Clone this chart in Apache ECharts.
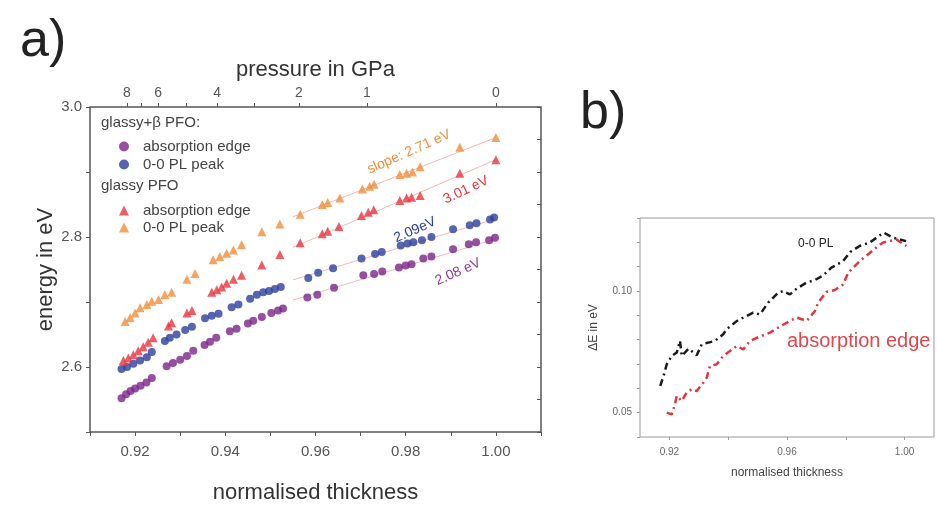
<!DOCTYPE html>
<html>
<head>
<meta charset="utf-8">
<script src="https://cdn.jsdelivr.net/npm/echarts@6/dist/echarts.min.js"></script>
<style>
html, body { margin: 0; padding: 0; background: #fff; }
#chart { width: 937px; height: 509px; }
</style>
</head>
<body>
<div id="chart"></div>
<script>
// panel a: energy (eV) against normalised thickness
var betaAbsorption = [[0.9170,2.552],[0.9180,2.558],[0.9190,2.563],[0.9200,2.567],[0.9212,2.571],[0.9225,2.576],[0.9237,2.583],[0.9270,2.601],[0.9284,2.606],[0.9300,2.611],[0.9315,2.617],[0.9329,2.625],[0.9354,2.634],[0.9366,2.639],[0.9380,2.645],[0.9410,2.655],[0.9425,2.659],[0.9450,2.667],[0.9462,2.671],[0.9481,2.677],[0.9502,2.683],[0.9517,2.687],[0.9528,2.690],[0.9582,2.707],[0.9604,2.711],[0.9641,2.722],[0.9706,2.741],[0.9730,2.743],[0.9748,2.747],[0.9785,2.753],[0.9800,2.756],[0.9813,2.758],[0.9839,2.767],[0.9857,2.770],[0.9905,2.781],[0.9940,2.789],[0.9956,2.792],[0.9985,2.795],[0.9998,2.799]];
var betaPL = [[0.9170,2.597],[0.9182,2.600],[0.9196,2.605],[0.9211,2.610],[0.9226,2.615],[0.9237,2.623],[0.9266,2.640],[0.9277,2.645],[0.9292,2.650],[0.9311,2.657],[0.9326,2.662],[0.9355,2.675],[0.9370,2.679],[0.9385,2.682],[0.9414,2.692],[0.9429,2.696],[0.9455,2.705],[0.9470,2.711],[0.9484,2.715],[0.9497,2.717],[0.9510,2.720],[0.9523,2.723],[0.9584,2.737],[0.9606,2.745],[0.9639,2.752],[0.9702,2.767],[0.9732,2.774],[0.9747,2.777],[0.9789,2.787],[0.9804,2.790],[0.9817,2.792],[0.9836,2.795],[0.9857,2.800],[0.9905,2.812],[0.9942,2.818],[0.9957,2.821],[0.9987,2.827],[0.9996,2.830]];
var glassyAbsorption = [[0.9174,2.610],[0.9185,2.614],[0.9196,2.619],[0.9207,2.625],[0.9218,2.631],[0.9229,2.638],[0.9240,2.645],[0.9274,2.663],[0.9281,2.668],[0.9315,2.683],[0.9326,2.687],[0.9370,2.715],[0.9381,2.719],[0.9392,2.723],[0.9403,2.729],[0.9418,2.735],[0.9436,2.741],[0.9481,2.757],[0.9521,2.773],[0.9566,2.791],[0.9615,2.805],[0.9627,2.809],[0.9652,2.816],[0.9702,2.833],[0.9717,2.838],[0.9729,2.842],[0.9787,2.856],[0.9802,2.860],[0.9813,2.861],[0.9832,2.864],[0.9920,2.898],[1.0000,2.919]];
var glassyPL = [[0.9178,2.670],[0.9189,2.676],[0.9200,2.683],[0.9211,2.691],[0.9226,2.696],[0.9237,2.701],[0.9252,2.704],[0.9266,2.711],[0.9281,2.715],[0.9315,2.735],[0.9333,2.744],[0.9373,2.765],[0.9388,2.770],[0.9403,2.775],[0.9418,2.780],[0.9436,2.788],[0.9481,2.808],[0.9521,2.820],[0.9566,2.835],[0.9615,2.850],[0.9627,2.853],[0.9654,2.860],[0.9704,2.874],[0.9720,2.878],[0.9730,2.881],[0.9787,2.896],[0.9802,2.898],[0.9815,2.900],[0.9832,2.908],[0.9920,2.938],[1.0000,2.953]];

// linear fits (end points)
var fitGlassyPL = [[0.955,2.831],[1.0,2.953]];
var fitGlassyAbs = [[0.955,2.784],[1.0,2.919]];
var fitBetaPL = [[0.955,2.734],[1.0,2.828]];
var fitBetaAbs = [[0.955,2.703],[1.0,2.797]];

// panel b: energy difference glassy - glassy+beta
var deltaPL = [[0.9169,0.0610],[0.9180,0.0651],[0.9191,0.0699],[0.9208,0.0733],[0.9225,0.0747],[0.9236,0.0795],[0.9242,0.0733],[0.9265,0.0763],[0.9293,0.0736],[0.9310,0.0781],[0.9333,0.0788],[0.9355,0.0795],[0.9383,0.0822],[0.9395,0.0843],[0.9434,0.0881],[0.9463,0.0897],[0.9485,0.0911],[0.9508,0.0904],[0.9536,0.0952],[0.9570,0.0993],[0.9587,0.1000],[0.9610,0.0986],[0.9633,0.1010],[0.9667,0.1035],[0.9695,0.1045],[0.9723,0.1064],[0.9751,0.1096],[0.9791,0.1123],[0.9815,0.1160],[0.9847,0.1185],[0.9881,0.1199],[0.9929,0.1240],[0.9960,0.1219],[1.0005,0.1205]];
var deltaAbs = [[0.9191,0.0500],[0.9208,0.0493],[0.9219,0.0535],[0.9225,0.0569],[0.9242,0.0548],[0.9259,0.0583],[0.9276,0.0596],[0.9293,0.0589],[0.9316,0.0624],[0.9327,0.0644],[0.9338,0.0692],[0.9361,0.0699],[0.9383,0.0733],[0.9406,0.0753],[0.9429,0.0774],[0.9451,0.0760],[0.9474,0.0795],[0.9508,0.0813],[0.9542,0.0829],[0.9576,0.0854],[0.9610,0.0877],[0.9633,0.0891],[0.9667,0.0877],[0.9695,0.0918],[0.9706,0.0952],[0.9734,0.0996],[0.9763,0.1004],[0.9791,0.1027],[0.9808,0.1075],[0.9825,0.1096],[0.9847,0.1123],[0.9876,0.1151],[0.9910,0.1185],[0.9927,0.1199],[0.9972,0.1212],[1.0006,0.1185]];

// ticks
var thicknessLabels = [0.92, 0.94, 0.96, 0.98, 1.00];
var thicknessTicks = [0.91, 0.92, 0.93, 0.94, 0.95, 0.96, 0.97, 0.98, 0.99, 1.00, 1.01];
var energyLabels = [2.6, 2.8, 3.0];
var energyTicks = [2.5, 2.6, 2.7, 2.8, 2.9, 3.0];
var energyTicksRight = [2.5, 2.55, 2.6, 2.65, 2.7, 2.75, 2.8, 2.85, 2.9, 2.95, 3.0];
var pressureLabels = ['8', '6', '4', '2', '1', '0'];
var pressureAt = [0.9182, 0.9251, 0.9382, 0.9563, 0.9714, 1.0];
var pressureMinorAt = [0.9213, 0.9313, 0.9465];
var bThicknessLabels = [0.92, 0.96, 1.00];
var bThicknessTicks = [0.92, 0.94, 0.96, 0.98, 1.00];
var deltaLabels = [0.05, 0.10];
var deltaTicks = [0.04, 0.05, 0.06, 0.07, 0.08, 0.09, 0.10, 0.11, 0.12, 0.13];

var FONT = 'Liberation Sans, Arial, sans-serif';
var colPurple = '#7b2489', colBlue = '#2d3f9e', colRed = '#e8343c', colOrange = '#f28c3a';
var fitColor = '#f4b9b6';

var legendNames = {
    'beta abs': 'absorption edge',
    'beta pl': '0-0 PL peak',
    'glassy abs': 'absorption edge',
    'glassy pl': '0-0 PL peak'
};

function fitSeries(data) {
    return {
        type: 'line', xAxisIndex: 0, yAxisIndex: 0, data: data,
        showSymbol: false, silent: true, z: 1,
        lineStyle: { color: fitColor, width: 1 }
    };
}

var option = {
    backgroundColor: '#fff',
    textStyle: { fontFamily: FONT },
    animation: false,
    grid: [
        { left: 90, top: 107, right: 396, bottom: 70, show: true, borderColor: '#555', borderWidth: 1.5 },
        { left: 640, top: 218, right: 3, bottom: 72, show: true, borderColor: '#999', borderWidth: 1 }
    ],
    legend: [
        {
            orient: 'vertical', left: 114, top: 134, itemGap: 3,
            itemWidth: 10, itemHeight: 10,
            data: ['beta abs', 'beta pl'],
            formatter: function (n) { return legendNames[n]; },
            textStyle: { fontSize: 15, color: '#444', fontFamily: FONT, padding: [0, 0, 0, 9] }
        },
        {
            orient: 'vertical', left: 114, top: 198, itemGap: 2,
            itemWidth: 10, itemHeight: 10,
            data: ['glassy abs', 'glassy pl'],
            formatter: function (n) { return legendNames[n]; },
            textStyle: { fontSize: 15, color: '#444', fontFamily: FONT, padding: [0, 0, 0, 9] }
        }
    ],
    xAxis: [
        {
            type: 'value', gridIndex: 0, position: 'bottom', min: 0.91, max: 1.01,
            name: 'normalised thickness', nameLocation: 'middle', nameGap: 50,
            nameTextStyle: { fontSize: 22, color: '#333', fontFamily: FONT },
            axisLine: { show: false },
            splitLine: { show: false },
            axisTick: { show: true, inside: false, length: 4, customValues: thicknessTicks, lineStyle: { color: '#555' } },
            axisLabel: { customValues: thicknessLabels, margin: 12, fontSize: 15, color: '#555',
                formatter: function (v) { return v.toFixed(2); } }
        },
        {
            type: 'value', gridIndex: 0, position: 'top', min: 0.91, max: 1.01,
            name: 'pressure in GPa', nameLocation: 'middle', nameGap: 21,
            nameTextStyle: { fontSize: 22, color: '#333', fontFamily: FONT },
            axisLine: { show: false },
            splitLine: { show: false },
            axisTick: { show: true, inside: false, length: 4, customValues: pressureAt.concat(pressureMinorAt), lineStyle: { color: '#555' } },
            axisLabel: { customValues: pressureAt, margin: 7, fontSize: 14, color: '#555',
                formatter: function (v) {
                    for (var i = 0; i < pressureAt.length; i++) {
                        if (Math.abs(pressureAt[i] - v) < 1e-6) return pressureLabels[i];
                    }
                    return '';
                } }
        },
        {
            type: 'value', gridIndex: 1, position: 'bottom', min: 0.91, max: 1.01,
            name: 'normalised thickness', nameLocation: 'middle', nameGap: 30,
            nameTextStyle: { fontSize: 12, color: '#444', fontFamily: FONT },
            axisLine: { show: false },
            splitLine: { show: false },
            axisTick: { show: true, inside: false, length: 3, customValues: bThicknessTicks, lineStyle: { color: '#999' } },
            axisLabel: { customValues: bThicknessLabels, margin: 10, fontSize: 10, color: '#666',
                formatter: function (v) { return v.toFixed(2); } }
        }
    ],
    yAxis: [
        {
            type: 'value', gridIndex: 0, position: 'left', min: 2.5, max: 3.0,
            name: 'energy in eV', nameLocation: 'middle', nameGap: 33,
            nameTextStyle: { fontSize: 22, color: '#333', fontFamily: FONT },
            axisLine: { show: false },
            splitLine: { show: false },
            axisTick: { show: true, inside: false, length: 4, customValues: energyTicks, lineStyle: { color: '#555' } },
            axisLabel: { customValues: energyLabels, margin: 8, fontSize: 15, color: '#555',
                formatter: function (v) { return v.toFixed(1); } }
        },
        {
            type: 'value', gridIndex: 0, position: 'right', min: 2.5, max: 3.0,
            axisLine: { show: false },
            splitLine: { show: false },
            axisTick: { show: true, inside: true, length: 4, customValues: energyTicksRight, lineStyle: { color: '#555' } },
            axisLabel: { show: false }
        },
        {
            type: 'value', gridIndex: 1, position: 'left', min: 0.04, max: 0.13,
            name: '\u0394E in eV', nameLocation: 'middle', nameGap: 40,
            nameTextStyle: { fontSize: 12, color: '#444', fontFamily: FONT },
            axisLine: { show: false },
            splitLine: { show: false },
            axisTick: { show: true, inside: false, length: 3, customValues: deltaTicks, lineStyle: { color: '#999' } },
            axisLabel: { customValues: deltaLabels, margin: 8, fontSize: 10, color: '#666',
                formatter: function (v) { return v.toFixed(2); } }
        }
    ],
    series: [
        fitSeries(fitGlassyPL),
        fitSeries(fitGlassyAbs),
        fitSeries(fitBetaPL),
        fitSeries(fitBetaAbs),
        {
            name: 'beta abs', type: 'scatter', xAxisIndex: 0, yAxisIndex: 0,
            symbol: 'circle', symbolSize: 8, itemStyle: { color: colPurple }, data: betaAbsorption
        },
        {
            name: 'beta pl', type: 'scatter', xAxisIndex: 0, yAxisIndex: 0,
            symbol: 'circle', symbolSize: 8, itemStyle: { color: colBlue }, data: betaPL
        },
        {
            name: 'glassy abs', type: 'scatter', xAxisIndex: 0, yAxisIndex: 0,
            symbol: 'triangle', symbolSize: 9, itemStyle: { color: colRed }, data: glassyAbsorption
        },
        {
            name: 'glassy pl', type: 'scatter', xAxisIndex: 0, yAxisIndex: 0,
            symbol: 'triangle', symbolSize: 9, itemStyle: { color: colOrange }, data: glassyPL
        },
        {
            name: '0-0 PL', type: 'line', xAxisIndex: 2, yAxisIndex: 2, data: deltaPL,
            showSymbol: false, lineStyle: { color: '#1a1a1a', width: 2.5, type: [7, 4, 2, 4] }
        },
        {
            name: 'absorption edge', type: 'line', xAxisIndex: 2, yAxisIndex: 2, data: deltaAbs,
            showSymbol: false, lineStyle: { color: '#e0363e', width: 2.5, type: [7, 4, 2, 4] }
        }
    ],
    graphic: [
        { type: 'text', x: 20, y: 16, style: { text: 'a)', font: '52px ' + FONT, fill: '#222' } },
        { type: 'text', x: 580, y: 88, style: { text: 'b)', font: '52px ' + FONT, fill: '#222' } },
        { type: 'text', x: 101, y: 115, style: { text: 'glassy+\u03b2 PFO:', font: '15px ' + FONT, fill: '#444' } },
        { type: 'text', x: 101, y: 178, style: { text: 'glassy PFO', font: '15px ' + FONT, fill: '#444' } },
        { type: 'text', x: 409, y: 152, rotation: 0.42,
          style: { text: 'slope: 2.71 eV', font: '14px ' + FONT, fill: colOrange, align: 'center', verticalAlign: 'middle', textAlign: 'center', textVerticalAlign: 'middle' } },
        { type: 'text', x: 466, y: 190, rotation: 0.44,
          style: { text: '3.01 eV', font: '14px ' + FONT, fill: colRed, align: 'center', verticalAlign: 'middle', textAlign: 'center', textVerticalAlign: 'middle' } },
        { type: 'text', x: 415, y: 230, rotation: 0.42,
          style: { text: '2.09eV', font: '14px ' + FONT, fill: colBlue, align: 'center', verticalAlign: 'middle', textAlign: 'center', textVerticalAlign: 'middle' } },
        { type: 'text', x: 458, y: 272, rotation: 0.42,
          style: { text: '2.08 eV', font: '14px ' + FONT, fill: '#8a3a96', align: 'center', verticalAlign: 'middle', textAlign: 'center', textVerticalAlign: 'middle' } },
        { type: 'text', x: 798, y: 238, style: { text: '0-0 PL', font: '12px ' + FONT, fill: '#222' } },
        { type: 'text', x: 787, y: 331, style: { text: 'absorption edge', font: '20px ' + FONT, fill: '#e0464c' } }
    ]
};

var chart = echarts.init(document.getElementById('chart'));
chart.setOption(option);
</script>
</body>
</html>
